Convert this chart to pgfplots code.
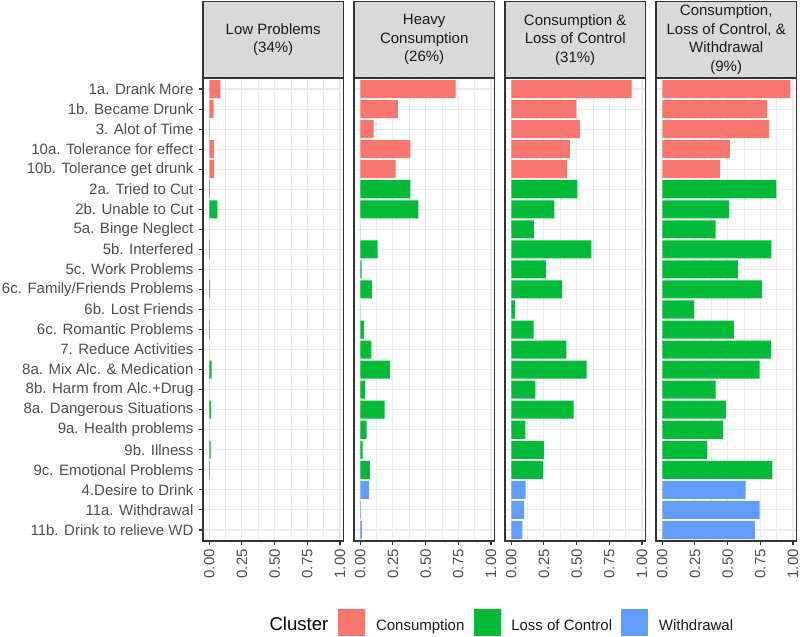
\documentclass[border=0pt]{standalone}
\usepackage{pgfplots}
\pgfplotsset{compat=1.18}
\usepackage{pgfplotstable}
\usepackage{fontspec}
\setmainfont{Liberation Sans}

\definecolor{cons}{HTML}{F8766D}
\definecolor{loc}{HTML}{00BA38}
\definecolor{wd}{HTML}{619CFF}
\definecolor{gridc}{HTML}{EBEBEB}
\definecolor{frame}{HTML}{333333}
\definecolor{stripc}{HTML}{D9D9D9}
\definecolor{ticklab}{HTML}{4D4D4D}
\definecolor{txt}{HTML}{1A1A1A}

% rows: 0 = top category
\pgfplotstableread{
row p1 p2 p3 p4
0 0.085 0.730 0.921 0.980
1 0.033 0.288 0.497 0.800
2 0.004 0.102 0.525 0.817
3 0.038 0.383 0.449 0.518
4 0.038 0.270 0.426 0.442
}\consdata

\pgfplotstableread{
row p1 p2 p3 p4
5 0.004 0.383 0.505 0.873
6 0.062 0.444 0.330 0.510
7 0.000 0.000 0.173 0.409
8 0.004 0.133 0.612 0.835
9 0.000 0.010 0.266 0.579
10 0.006 0.089 0.388 0.761
11 0.000 0.000 0.028 0.244
12 0.004 0.030 0.170 0.548
13 0.000 0.084 0.421 0.830
14 0.018 0.227 0.576 0.744
15 0.000 0.038 0.185 0.409
16 0.013 0.186 0.477 0.487
17 0.000 0.048 0.107 0.464
18 0.010 0.018 0.251 0.343
19 0.004 0.074 0.241 0.843
}\locdata

\pgfplotstableread{
row p1 p2 p3 p4
20 0.000 0.066 0.109 0.637
21 0.000 0.004 0.099 0.744
22 0.000 0.013 0.084 0.708
}\wddata

\pgfplotsset{
  panel/.style={
    scale only axis,
    width=105.3pt, height=347.25pt,
    anchor=south west,
    xmin=-0.048, xmax=1.026,
    ymin=-0.55, ymax=22.55,
    y dir=reverse,
    axis line style={frame, line width=0.8pt},
    xtick={0,0.25,0.5,0.75,1},
    xticklabels={0.00,0.25,0.50,0.75,1.00},
    minor xtick={0.125,0.375,0.625,0.875},
    ytick={0,...,22},
    xmajorgrids, xminorgrids, ymajorgrids,
    major grid style={gridc, line width=0.8pt},
    minor grid style={gridc, line width=0.4pt},
    tick align=outside,
    major tick length=3pt, minor tick length=0pt,
    tick style={frame, line width=0.8pt},
    xtick pos=lower, ytick pos=left,
    /pgf/number format/assume math mode=true,
    xticklabel shift=3pt,
    xticklabel style={rotate=90, anchor=east, inner sep=0pt, font=\fontsize{11.25}{13}\selectfont, text=ticklab},
    yticklabel style={anchor=east, inner sep=0pt, font=\fontsize{11.25}{13}\selectfont, text=ticklab, xshift=-4pt},
    clip=false,
  },
  bars/.style={xbar, bar width=0.9, bar shift=0pt, draw=none, fill=#1},
}

\newcommand{\strip}[2]{%
  \draw[frame, line width=0.8pt, fill=stripc] (#1,418.5pt) rectangle ++(105.3pt,57.4pt);
  \node[align=center, text=txt, font=\fontsize{11.25}{13.9}\selectfont, inner sep=0pt]
     at ([xshift=52.65pt]#1,447.2pt) {#2};
}

\begin{document}
\begin{tikzpicture}
\path (0,0) rectangle (600pt,477pt);

\begin{axis}[panel, at={(152.25pt,71.25pt)},
  yticklabels={1a. Drank More,1b. Became Drunk,3. Alot of Time,10a. Tolerance for effect,10b. Tolerance get drunk,2a. Tried to Cut,2b. Unable to Cut,5a. Binge Neglect,5b. Interfered,5c. Work Problems,6c. Family/Friends Problems,6b. Lost Friends,6c. Romantic Problems,7. Reduce Activities,8a. Mix Alc. \& Medication,8b. Harm from Alc.+Drug,8a. Dangerous Situations,9a. Health problems,9b. Illness,9c. Emotional Problems,4.Desire to Drink,11a. Withdrawal,11b. Drink to relieve WD}]
\addplot[bars=cons] table[x=p1, y=row] {\consdata};
\addplot[bars=loc] table[x=p1, y=row] {\locdata};
\addplot[bars=wd] table[x=p1, y=row] {\wddata};
\end{axis}

\begin{axis}[panel, at={(265.5pt,71.25pt)}, yticklabels={}, ytick style={draw=none}]
\addplot[bars=cons] table[x=p2, y=row] {\consdata};
\addplot[bars=loc] table[x=p2, y=row] {\locdata};
\addplot[bars=wd] table[x=p2, y=row] {\wddata};
\end{axis}

\begin{axis}[panel, at={(378.75pt,71.25pt)}, yticklabels={}, ytick style={draw=none}]
\addplot[bars=cons] table[x=p3, y=row] {\consdata};
\addplot[bars=loc] table[x=p3, y=row] {\locdata};
\addplot[bars=wd] table[x=p3, y=row] {\wddata};
\end{axis}

\begin{axis}[panel, at={(492pt,71.25pt)}, yticklabels={}, ytick style={draw=none}]
\addplot[bars=cons] table[x=p4, y=row] {\consdata};
\addplot[bars=loc] table[x=p4, y=row] {\locdata};
\addplot[bars=wd] table[x=p4, y=row] {\wddata};
\end{axis}

\strip{152.25pt}{Low Problems\\(34\%)}
\strip{265.5pt}{Heavy\\Consumption\\(26\%)}
\strip{378.75pt}{Consumption \&\\Loss of Control\\(31\%)}
\strip{492pt}{Consumption,\\Loss of Control, \&\\Withdrawal\\(9\%)}

% legend
\node[anchor=base west, inner sep=0pt, text=black, font=\fontsize{13.9}{16}\selectfont] at (202pt,4.5pt) {Cluster};
\fill[cons] (253.5pt,0.25pt) rectangle (273.75pt,20.25pt);
\fill[loc] (355.5pt,0.25pt) rectangle (375.75pt,20.25pt);
\fill[wd] (465.75pt,0.25pt) rectangle (486pt,20.25pt);
\node[anchor=base west, inner sep=0pt, text=txt, font=\fontsize{11.25}{13}\selectfont] at (281.8pt,4.5pt) {Consumption};
\node[anchor=base west, inner sep=0pt, text=txt, font=\fontsize{11.25}{13}\selectfont] at (383.25pt,4.5pt) {Loss of Control};
\node[anchor=base west, inner sep=0pt, text=txt, font=\fontsize{11.25}{13}\selectfont] at (494pt,4.5pt) {Withdrawal};

\pgfresetboundingbox
\path[use as bounding box] (0,0) rectangle (600pt,477pt);
\end{tikzpicture}
\end{document}
